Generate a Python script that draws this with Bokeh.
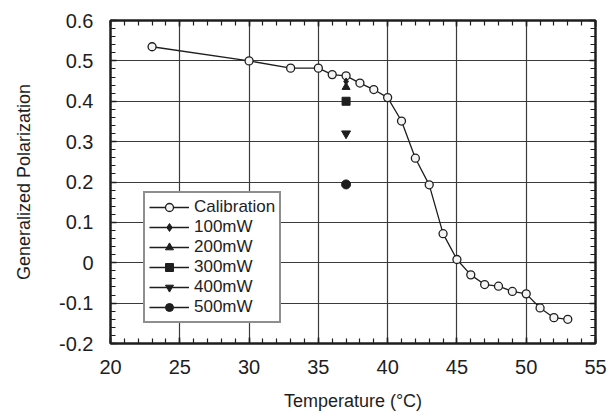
from bokeh.plotting import figure
from bokeh.models import LinearAxis, Legend, LegendItem, Range1d, FixedTicker
from bokeh.embed import file_html
from bokeh.resources import INLINE

# ---- data ----
temp_cal = [23, 30, 33, 35, 36, 37, 38, 39, 40, 41, 42, 43, 44, 45, 46, 47, 48, 49, 50, 51, 52, 53]
gp_cal = [0.535, 0.500, 0.482, 0.482, 0.466, 0.463, 0.445, 0.429, 0.409, 0.351, 0.259, 0.193,
          0.072, 0.008, -0.030, -0.054, -0.058, -0.071, -0.077, -0.112, -0.136, -0.140]
power_labels = ["100mW", "200mW", "300mW", "400mW", "500mW"]
power_temp = [37, 37, 37, 37, 37]
power_gp = [0.449, 0.435, 0.400, 0.320, 0.194]
power_markers = ["diamond", "triangle", "square", "inverted_triangle", "circle"]
power_sizes = [7, 8, 8, 9, 9]

x_ticks = [20, 25, 30, 35, 40, 45, 50, 55]
x_minor = list(range(20, 56))
y_ticks = [-0.2, -0.1, 0.0, 0.1, 0.2, 0.3, 0.4, 0.5, 0.6]
y_tick_labels = ["-0.2", "-0.1", "0", "0.1", "0.2", "0.3", "0.4", "0.5", "0.6"]
y_minor = [round(-0.2 + 0.02 * i, 2) for i in range(41)]

FONT = "Liberation Sans"
INK = "#1e1e1e"

p = figure(width=611, height=414, output_backend="svg", toolbar_location=None,
           x_range=Range1d(20, 55), y_range=Range1d(-0.2, 0.6),
           min_border_left=110, min_border_right=16, min_border_top=20, min_border_bottom=71)
p.background_fill_color = "white"
p.border_fill_color = "white"
p.outline_line_color = INK
p.outline_line_width = 2

xt = FixedTicker(ticks=x_ticks, minor_ticks=x_minor)
yt = FixedTicker(ticks=y_ticks, minor_ticks=y_minor)

for ax, t in ((p.xaxis[0], xt), (p.yaxis[0], yt)):
    ax.ticker = t
    ax.major_tick_in = 6
    ax.major_tick_out = 0
    ax.minor_tick_in = 5
    ax.minor_tick_out = 0
    ax.axis_line_color = INK
    ax.axis_line_width = 2
    ax.major_tick_line_color = INK
    ax.minor_tick_line_color = INK
    ax.major_tick_line_width = 1.5
    ax.minor_tick_line_width = 1.2
    ax.major_label_text_font = FONT
    ax.major_label_text_font_size = "20px"
    ax.major_label_text_color = INK
    ax.axis_label_text_font = FONT
    ax.axis_label_text_font_size = "18px"
    ax.axis_label_text_font_style = "normal"
    ax.axis_label_text_color = INK

p.xaxis.axis_label = "Temperature (°C)"
p.yaxis.axis_label = "Generalized Polarization"
p.yaxis.major_label_overrides = dict(zip(y_ticks, y_tick_labels))
p.yaxis.major_label_standoff = 17
p.xaxis.major_label_standoff = 16
p.yaxis.axis_label_standoff = 22
p.xaxis.axis_label_standoff = 14

for loc, t in (("above", xt), ("right", yt)):
    a = LinearAxis(ticker=t, major_tick_in=6, major_tick_out=0, minor_tick_in=5, minor_tick_out=0,
                   major_label_text_color=None, major_label_standoff=0,
                   axis_line_color=INK, axis_line_width=2, major_tick_line_color=INK,
                   minor_tick_line_color=INK, major_tick_line_width=1.5, minor_tick_line_width=1.2)
    p.add_layout(a, loc)

p.xgrid.ticker = xt
p.ygrid.ticker = yt
for g in (p.xgrid[0], p.ygrid[0]):
    g.grid_line_color = "#3a3a3a"
    g.grid_line_width = 1.2

items = []
cal_line = p.line(temp_cal, gp_cal, line_color=INK, line_width=1.3)
cal_pts = p.scatter(temp_cal, gp_cal, marker="circle", size=8, line_color=INK,
                    fill_color="#f4f4f4", line_width=1.3)
items.append(LegendItem(label="Calibration", renderers=[cal_line, cal_pts]))

for lab, xv, yv, mk, sz in zip(power_labels, power_temp, power_gp, power_markers, power_sizes):
    ln = p.line([xv], [yv], line_color=INK, line_width=1.3)
    sc = p.scatter([xv], [yv], marker=mk, size=sz, line_color=INK, fill_color=INK)
    items.append(LegendItem(label=lab, renderers=[ln, sc]))

legend = Legend(items=items, location=(33, 20), orientation="vertical",
                label_text_font=FONT, label_text_font_size="17px", label_text_color=INK,
                glyph_width=40, glyph_height=20, label_height=20, label_standoff=5,
                spacing=0, padding=4, margin=0,
                border_line_color=INK, border_line_width=2.5,
                background_fill_color="white", background_fill_alpha=1.0)
p.add_layout(legend, "center")

open("out.html", "w").write(file_html(p, INLINE))
